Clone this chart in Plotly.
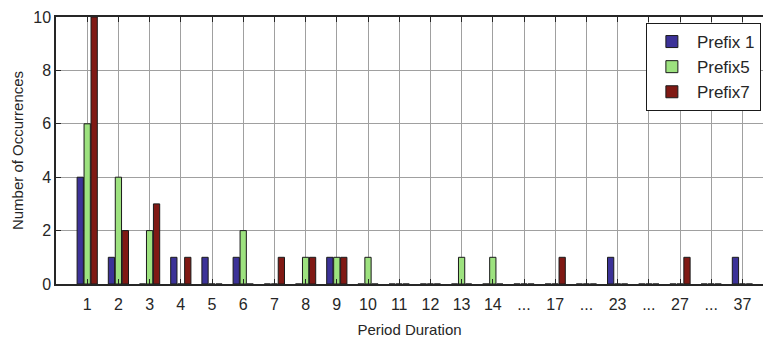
import plotly.graph_objects as go

# Period duration categories (tick labels)
period_labels = ["1", "2", "3", "4", "5", "6", "7", "8", "9", "10", "11", "12",
                 "13", "14", "...", "17", "...", "23", "...", "27", "...", "37"]

# Occurrence counts per category
prefix1 = [4, 1, 0, 1, 1, 1, 0, 0, 1, 0, 0, 0, 0, 0, 0, 0, 0, 1, 0, 0, 0, 1]
prefix5 = [6, 4, 2, 0, 0, 2, 0, 1, 1, 1, 0, 0, 1, 1, 0, 0, 0, 0, 0, 0, 0, 0]
prefix7 = [10, 2, 3, 1, 0, 0, 1, 1, 1, 0, 0, 0, 0, 0, 0, 1, 0, 0, 0, 1, 0, 0]

series_names = ["Prefix 1", "Prefix5", "Prefix7"]
series_colors = ["#3C3298", "#9DE27F", "#801914"]

positions = list(range(1, len(period_labels) + 1))

fig = go.Figure()
for name, vals, col in zip(series_names, [prefix1, prefix5, prefix7], series_colors):
    fig.add_trace(go.Bar(
        x=positions, y=vals, name=name,
        marker=dict(color=col, line=dict(color="#1a1a1a", width=1)),
    ))

FONT = "Liberation Sans, Arial, sans-serif"

fig.update_layout(
    width=763, height=339,
    margin=dict(l=56, r=0, t=17, b=55, autoexpand=False),
    plot_bgcolor="white", paper_bgcolor="white",
    barmode="group", bargap=0.33, bargroupgap=0.1,
    font=dict(family=FONT, color="#262626", size=16),
    showlegend=True,
    legend=dict(
        x=0.997, y=0.9775, xanchor="right", yanchor="top",
        bgcolor="white", bordercolor="#1a1a1a", borderwidth=1,
        font=dict(family=FONT, size=17, color="#262626"),
        tracegroupgap=0, itemwidth=40,
    ),
)

fig.update_xaxes(
    range=[0, 22.66], automargin=False,
    tickmode="array", tickvals=positions, ticktext=period_labels,
    ticks="inside", ticklen=5, tickcolor="#262626",
    showline=True, linecolor="#262626", linewidth=1.5, mirror="ticks",
    showgrid=True, gridcolor="#a0a0a0", gridwidth=1,
    zeroline=False,
    tickfont=dict(size=16, family=FONT, color="#262626"),
    ticklabelstandoff=5,
    title=dict(text="Period Duration", font=dict(size=15, family=FONT, color="#262626"), standoff=13),
)

fig.update_yaxes(
    range=[0, 10], dtick=2, automargin=False,
    ticks="inside", ticklen=5, tickcolor="#262626",
    showline=True, linecolor="#262626", linewidth=1.5, mirror=False,
    showgrid=True, gridcolor="#a0a0a0", gridwidth=1,
    zeroline=False,
    tickfont=dict(size=16, family=FONT, color="#262626"),
    title=dict(text="Number of Occurrences", font=dict(size=15, family=FONT, color="#262626"), standoff=6),
)

fig.write_html(
    "out.html",
    config={"displayModeBar": False},
    post_script="document.body.style.margin='0';document.body.style.overflow='hidden';",
)
